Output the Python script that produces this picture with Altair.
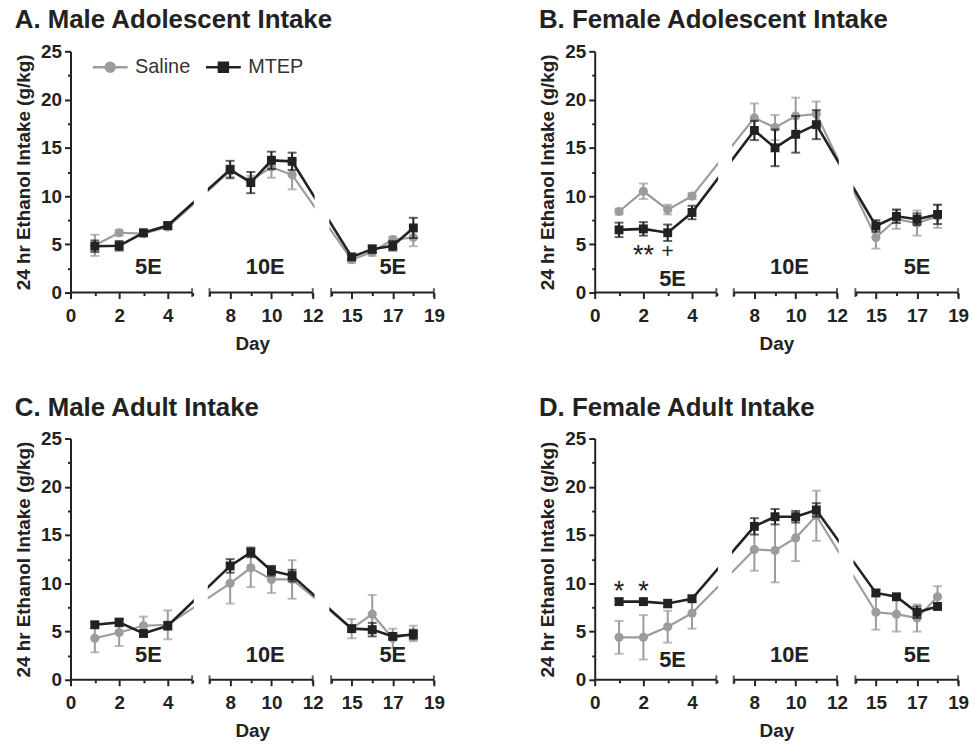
import altair as alt
import pandas as pd

FONT = "Liberation Sans"
INK = "#222222"
GREY = "#9c9c9c"

# ---------------- data ----------------
days = [1, 2, 3, 4, 8, 9, 10, 11, 15, 16, 17, 18]
groups = ["Saline", "MTEP"]

a_saline_mean = [4.9, 6.2, 6.1, 6.8, 12.6, 11.6, 13.0, 12.2, 3.4, 4.2, 5.5, 5.7]
a_saline_sem = [1.1, 0.3, 0.3, 0.3, 0.6, 0.5, 1.1, 1.5, 0.3, 0.4, 0.3, 0.9]
a_mtep_mean = [4.8, 4.85, 6.2, 6.95, 12.75, 11.4, 13.7, 13.6, 3.7, 4.5, 4.85, 6.7]
a_mtep_sem = [0.6, 0.5, 0.3, 0.3, 0.9, 1.1, 0.9, 0.9, 0.3, 0.4, 0.5, 1.05]

b_saline_mean = [8.4, 10.5, 8.6, 10.0, 18.1, 17.1, 18.3, 18.5, 5.7, 7.6, 7.2, 7.9]
b_saline_sem = [0.3, 0.8, 0.5, 0.3, 1.5, 1.3, 1.9, 1.3, 1.15, 1.0, 1.3, 1.2]
b_mtep_mean = [6.5, 6.6, 6.2, 8.3, 16.8, 15.0, 16.4, 17.4, 6.9, 7.9, 7.6, 8.1]
b_mtep_sem = [0.75, 0.7, 0.85, 0.7, 1.0, 1.9, 1.9, 1.5, 0.6, 0.7, 0.6, 1.0]

c_saline_mean = [4.3, 4.9, 5.6, 5.7, 10.0, 11.6, 10.4, 10.4, 5.3, 6.8, 4.3, 4.8]
c_saline_sem = [1.45, 1.4, 0.95, 1.5, 2.1, 2.0, 1.4, 2.0, 1.0, 2.0, 1.0, 0.8]
c_mtep_mean = [5.7, 5.95, 4.8, 5.6, 11.8, 13.2, 11.3, 10.8, 5.3, 5.2, 4.5, 4.7]
c_mtep_sem = [0.3, 0.4, 0.3, 0.4, 0.7, 0.5, 0.5, 0.6, 0.3, 0.7, 0.3, 0.5]

d_saline_mean = [4.4, 4.4, 5.5, 6.9, 13.5, 13.4, 14.7, 17.0, 7.0, 6.8, 6.4, 8.6]
d_saline_sem = [1.7, 2.3, 1.65, 1.6, 2.2, 3.3, 2.4, 2.6, 1.8, 1.8, 1.4, 1.1]
d_mtep_mean = [8.1, 8.1, 7.9, 8.4, 15.9, 16.9, 16.9, 17.6, 9.0, 8.6, 7.0, 7.6]
d_mtep_sem = [0.3, 0.3, 0.4, 0.3, 0.85, 0.8, 0.6, 0.7, 0.3, 0.3, 0.6, 0.3]

panel_titles = [
    "A. Male Adolescent Intake",
    "B. Female Adolescent Intake",
    "C. Male Adult Intake",
    "D. Female Adult Intake",
]

# broken x axis
seg_start = [0, 7, 14]
seg_end = [5, 12, 19]
seg_caps = [5, 7, 12, 14, 19]
break_from = [5.2, 12.2]
break_to = [6.8, 13.8]
x_ticks = [0, 1, 2, 3, 4, 5, 7, 8, 9, 10, 11, 12, 14, 15, 16, 17, 18, 19]
x_labeled = [0, 2, 4, 8, 10, 12, 15, 17, 19]
y_ticks = [0, 2.5, 5, 7.5, 10, 12.5, 15, 17.5, 20, 22.5, 25]

# annotations
phase_labels = ["5E", "10E", "5E"]
phase_x = [3.2, 9.7, 17.0]
phase_y_a = [2.6, 2.6, 2.6]
phase_y_b = [1.4, 2.6, 2.6]
phase_y_c = [2.6, 2.6, 2.6]
phase_y_d = [2.0, 2.6, 2.6]

sig_b_text = ["**", "+"]
sig_b_x = [2.0, 3.0]
sig_b_y = [3.8, 4.2]
sig_d_text = ["*", "*"]
sig_d_x = [1.0, 2.0]
sig_d_y = [9.1, 9.1]

# ---------------- helpers ----------------
def series_df(s_mean, s_sem, m_mean, m_sem):
    rows = []
    for g, mean, sem in (("Saline", s_mean, s_sem), ("MTEP", m_mean, m_sem)):
        for d, mu, se in zip(days, mean, sem):
            rows.append({"day": d, "group": g, "mean": mu, "lo": mu - se, "hi": mu + se})
    return pd.DataFrame(rows)


labeled_js = "[" + ",".join(str(v) for v in x_labeled) + "]"

xscale = alt.Scale(domain=[0, 5, 7, 12, 14, 19],
                   range=[0, 122.5, 140, 244, 262.5, 366], nice=False, zero=False)
yscale = alt.Scale(domain=[0, 25], nice=False, zero=True)

xaxis = alt.Axis(
    values=x_ticks,
    labelExpr=f"indexof({labeled_js}, datum.value) >= 0 ? datum.label : ''",
    tickSize={"condition": {"test": f"indexof({labeled_js}, datum.value) >= 0", "value": 6}, "value": 3},
    domain=False, grid=False, tickColor=INK, tickWidth=2,
    labelFont=FONT, labelFontSize=19, labelFontWeight="bold", labelColor=INK,
    labelPadding=8, labelFlush=False, labelOverlap=False,
    title="Day", titleFont=FONT, titleFontSize=19, titleFontWeight="bold",
    titleColor=INK, titlePadding=9,
)
yaxis = alt.Axis(
    values=y_ticks,
    labelExpr="datum.value % 5 === 0 ? datum.label : ''",
    tickSize={"condition": {"test": "datum.value % 5 === 0", "value": 6}, "value": 3},
    domain=True, domainColor=INK, domainWidth=2, grid=False,
    tickColor=INK, tickWidth=2,
    labelFont=FONT, labelFontSize=19, labelFontWeight="bold", labelColor=INK,
    labelPadding=3, labelFlush=False, labelOverlap=False,
    title="24 hr Ethanol Intake (g/kg)", titleFont=FONT, titleFontSize=19,
    titleFontWeight="bold", titleColor=INK, titlePadding=7,
)


def X(field):
    return alt.X(field, type="quantitative", scale=xscale, axis=xaxis)


def Y(field):
    return alt.Y(field, type="quantitative", scale=yscale, axis=yaxis)


# legend symbols: line through a marker (custom paths)
circ = "M-3.9,0L3.9,0M1,0L0.866,0.5L0.5,0.866L0,1L-0.5,0.866L-0.866,0.5L-1,0L-0.866,-0.5L-0.5,-0.866L0,-1L0.5,-0.866L0.866,-0.5Z"
sqr = "M-3.9,0L3.9,0M-1,-1L1,-1L1,1L-1,1Z"
legend = alt.Legend(
    title=None, orient="none", legendX=30, legendY=6, direction="horizontal",
    symbolSize=81, symbolStrokeWidth=2.5, symbolOpacity=1,
    labelFont=FONT, labelFontSize=20, labelColor="#333333", labelOffset=15,
    columnPadding=10, padding=0,
)


def panel(title, df, ph_y, sig=None):
    base = alt.Chart(df)
    layers = []
    for g, col, shape, size, sw in (("Saline", GREY, "circle", 85, 2.2),
                                     ("MTEP", INK, "square", 80, 2.6)):
        sub = base.transform_filter(alt.datum.group == g)
        layers.append(sub.mark_rule(color=col, strokeWidth=2).encode(x=X("day"), y=Y("lo"), y2="hi"))
        layers.append(sub.mark_tick(color=col, orient="horizontal", size=9, thickness=2)
                      .encode(x=X("day"), y=Y("lo")))
        layers.append(sub.mark_tick(color=col, orient="horizontal", size=9, thickness=2)
                      .encode(x=X("day"), y=Y("hi")))
        layers.append(sub.mark_line(color=col, strokeWidth=sw).encode(x=X("day"), y=Y("mean")))
        layers.append(sub.mark_point(filled=True, shape=shape, size=size, color=col, opacity=1)
                      .encode(x=X("day"), y=Y("mean")))

    # white gaps where the lines cross the axis breaks
    brk = pd.DataFrame({"b0": break_from, "b1": break_to})
    layers.append(alt.Chart(brk).mark_rect(color="white").encode(
        x=X("b0"), x2="b1", y=alt.datum(0.4, scale=yscale, axis=yaxis), y2=alt.datum(20.5)))

    # broken x-axis line segments and end caps
    segs = pd.DataFrame({"s0": seg_start, "s1": seg_end})
    layers.append(alt.Chart(segs).mark_rule(color=INK, strokeWidth=2).encode(
        x=X("s0"), x2="s1", y=alt.datum(0, scale=yscale, axis=yaxis)))
    caps = pd.DataFrame({"c": seg_caps})
    layers.append(alt.Chart(caps).mark_tick(color=INK, orient="vertical", size=9, thickness=2).encode(
        x=X("c"), y=alt.datum(0, scale=yscale, axis=yaxis)))

    # phase labels
    ph = pd.DataFrame({"t": phase_labels, "x": phase_x, "y": ph_y})
    layers.append(alt.Chart(ph).mark_text(font=FONT, fontSize=22, fontWeight="bold", color=INK,
                                          baseline="middle").encode(x=X("x"), y=Y("y"), text="t"))
    if sig is not None:
        sg = pd.DataFrame({"t": sig[0], "x": sig[1], "y": sig[2]})
        layers.append(alt.Chart(sg).mark_text(font=FONT, fontWeight="normal", color=INK,
                                              baseline="middle").encode(
            x=X("x"), y=Y("y"), text="t",
            size=alt.condition(alt.datum.t == "+", alt.value(21), alt.value(27)),
        ))

    # legend-only layer (draws no marks)
    layers.append(base.transform_filter("datum.day < 0").mark_point(filled=True, strokeWidth=2.5).encode(
        x=X("day"), y=Y("mean"),
        shape=alt.Shape("group:N", scale=alt.Scale(domain=groups, range=[circ, sqr]), legend=legend),
        fill=alt.Fill("group:N", scale=alt.Scale(domain=groups, range=[GREY, INK]), legend=legend),
        stroke=alt.Stroke("group:N", scale=alt.Scale(domain=groups, range=[GREY, INK]), legend=legend),
    ))

    return alt.layer(*layers).properties(
        width=366, height=243,
        title=alt.Title(title, anchor="start", font=FONT, fontSize=26, fontWeight="bold",
                        color=INK, offset=9),
    )


pa = panel(panel_titles[0], series_df(a_saline_mean, a_saline_sem, a_mtep_mean, a_mtep_sem), phase_y_a)
pb = panel(panel_titles[1], series_df(b_saline_mean, b_saline_sem, b_mtep_mean, b_mtep_sem), phase_y_b,
           (sig_b_text, sig_b_x, sig_b_y))
pc = panel(panel_titles[2], series_df(c_saline_mean, c_saline_sem, c_mtep_mean, c_mtep_sem), phase_y_c)
pd_ = panel(panel_titles[3], series_df(d_saline_mean, d_saline_sem, d_mtep_mean, d_mtep_sem), phase_y_d,
            (sig_d_text, sig_d_x, sig_d_y))

chart = alt.vconcat(
    alt.hconcat(pa, pb, spacing=94),
    alt.hconcat(pc, pd_, spacing=94),
    spacing=42,
).properties(
    padding={"left": 14, "top": 5, "right": 5, "bottom": 5},
    background="white",
).configure_view(stroke=None)

chart.save("out.html", embed_options={"renderer": "svg", "actions": False})
